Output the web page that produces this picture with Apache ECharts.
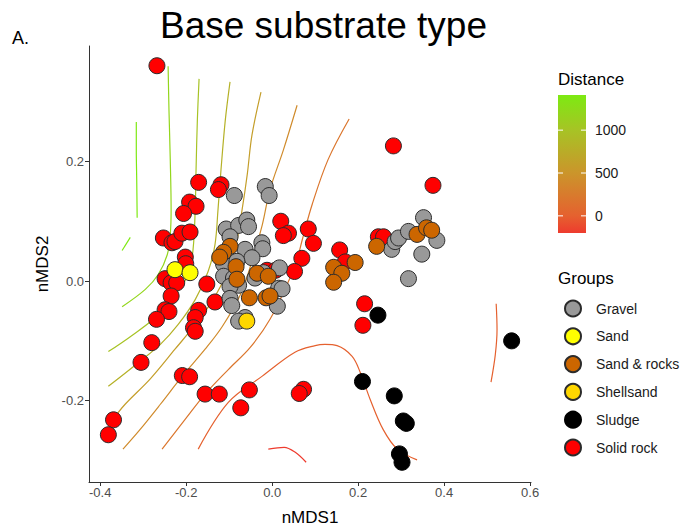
<!DOCTYPE html>
<html>
<head>
<meta charset="utf-8">
<script src="https://cdn.jsdelivr.net/npm/echarts@6/dist/echarts.min.js"></script>
<style>
  html, body { margin: 0; padding: 0; background: #fff; }
  #chart { width: 684px; height: 531px; }
</style>
</head>
<body>
<div id="chart"></div>
<script>
// groups of the legend, in legend order
const groups = ['Gravel', 'Sand', 'Sand & rocks', 'Shellsand', 'Sludge', 'Solid rock'];
const groupColors = ['#999999', '#FFFF00', '#CC6600', '#FFD700', '#000000', '#FF0000'];

// nMDS scores [nMDS1, nMDS2]
const gravel = [
  [-0.088, 0.143], [-0.016, 0.158], [-0.007, 0.143], [-0.107, 0.087], [-0.078, 0.093], [-0.059, 0.102],
  [-0.055, 0.091], [-0.098, 0.074], [-0.063, 0.053], [-0.024, 0.064], [-0.022, 0.054], [-0.047, 0.039],
  [-0.113, 0.028], [-0.082, 0.033], [-0.113, 0.008], [-0.090, 0.005], [-0.078, -0.007], [-0.098, -0.009],
  [-0.040, 0.005], [-0.020, 0.014], [0.017, 0.022], [0.015, -0.012], [0.023, -0.013], [-0.098, -0.029],
  [-0.094, -0.041], [0.012, -0.042], [-0.063, -0.061], [-0.078, -0.067], [0.278, 0.053], [0.286, 0.066],
  [0.294, 0.072], [0.317, 0.083], [0.352, 0.106], [0.383, 0.068], [0.348, 0.045], [0.317, 0.004]
];
const sand = [[-0.226, 0.019], [-0.191, 0.014]];
const sandRocks = [
  [-0.098, 0.058], [-0.113, 0.048], [-0.122, 0.040], [-0.084, 0.024], [-0.082, 0.003], [-0.053, -0.028],
  [-0.035, 0.013], [-0.009, 0.008], [-0.014, -0.028], [-0.005, -0.025], [0.143, 0.023], [0.162, 0.013],
  [0.143, -0.002], [0.193, 0.031], [0.243, 0.058], [0.337, 0.078], [0.359, 0.089], [0.371, 0.085]
];
const shellsand = [[-0.059, -0.067]];
const sludge = [
  [0.246, -0.057], [0.557, -0.100], [0.210, -0.168], [0.284, -0.192],
  [0.305, -0.234], [0.312, -0.238], [0.296, -0.289], [0.302, -0.303]
];
const solidRock = [
  [-0.268, 0.360], [-0.171, 0.165], [-0.119, 0.161], [-0.125, 0.153], [-0.192, 0.132], [-0.177, 0.125],
  [-0.206, 0.113], [-0.253, 0.072], [-0.233, 0.064], [-0.226, 0.066], [-0.210, 0.080], [-0.191, 0.082],
  [-0.202, 0.040], [-0.201, 0.029], [-0.249, 0.004], [-0.235, -0.003], [-0.222, -0.003], [-0.235, -0.025],
  [-0.152, -0.005], [-0.133, -0.035], [-0.249, -0.048], [-0.240, -0.051], [-0.269, -0.064], [-0.171, -0.049],
  [-0.179, -0.061], [-0.183, -0.078], [-0.179, -0.084], [-0.280, -0.103], [-0.305, -0.136], [-0.209, -0.158],
  [-0.192, -0.160], [-0.156, -0.189], [-0.123, -0.189], [-0.053, -0.182], [-0.073, -0.212], [-0.369, -0.232],
  [-0.381, -0.257], [0.073, -0.181], [0.063, -0.188], [0.020, 0.100], [0.038, 0.080], [0.026, 0.076],
  [0.084, 0.087], [0.096, 0.063], [0.069, 0.038], [0.052, 0.016], [-0.012, 0.018], [0.008, 0.018],
  [0.157, 0.052], [0.170, 0.032], [0.247, 0.074], [0.259, 0.074], [0.215, -0.038], [0.211, -0.074],
  [0.282, 0.226], [0.374, 0.160]
];
const groupData = [gravel, sand, sandRocks, shellsand, sludge, solidRock];

// fitted surface contours (Distance), one level per path
const contourLevels = [1400, 1400, 1200, 1000, 800, 600, 400, 200, 0, 0, -200];
const contourPaths = [
  [[-0.316, 0.266], [-0.316, 0.219], [-0.315, 0.169], [-0.314, 0.106]],
  [[-0.330, 0.073], [-0.349, 0.051]],
  [[-0.242, 0.359], [-0.240, 0.286], [-0.237, 0.203], [-0.235, 0.119], [-0.237, 0.078], [-0.244, 0.044],
   [-0.265, 0.011], [-0.295, -0.014], [-0.349, -0.043]],
  [[-0.170, 0.338], [-0.174, 0.269], [-0.177, 0.186], [-0.179, 0.119], [-0.184, 0.053], [-0.195, 0.011],
   [-0.226, -0.023], [-0.272, -0.061], [-0.330, -0.093], [-0.381, -0.118]],
  [[-0.098, 0.333], [-0.109, 0.269], [-0.119, 0.186], [-0.126, 0.119], [-0.133, 0.061], [-0.149, 0.016],
   [-0.179, -0.031], [-0.219, -0.073], [-0.260, -0.106], [-0.307, -0.134], [-0.381, -0.176]],
  [[-0.026, 0.316], [-0.047, 0.244], [-0.058, 0.178], [-0.070, 0.119], [-0.084, 0.061], [-0.107, 0.011],
   [-0.140, -0.034], [-0.179, -0.073], [-0.226, -0.114], [-0.284, -0.164], [-0.342, -0.206], [-0.372, -0.233]],
  [[0.058, 0.294], [0.026, 0.219], [-0.005, 0.153], [-0.023, 0.094], [-0.047, 0.033], [-0.074, -0.023],
   [-0.116, -0.076], [-0.156, -0.114], [-0.209, -0.159], [-0.260, -0.206], [-0.307, -0.248], [-0.347, -0.281]],
  [[0.179, 0.271], [0.130, 0.203], [0.093, 0.128], [0.070, 0.069], [0.058, 0.036], [0.042, 0.006],
   [-0.005, -0.064], [-0.051, -0.111], [-0.102, -0.148], [-0.156, -0.189], [-0.202, -0.231], [-0.256, -0.281]],
  [[-0.172, -0.281], [-0.102, -0.203], [-0.023, -0.159], [0.053, -0.119], [0.100, -0.108], [0.123, -0.106],
   [0.151, -0.108], [0.186, -0.126], [0.205, -0.153], [0.228, -0.198], [0.258, -0.248], [0.291, -0.281],
   [0.337, -0.299]],
  [[0.521, -0.038], [0.523, -0.081], [0.519, -0.123], [0.509, -0.169]],
  [[-0.009, -0.281], [0.028, -0.278], [0.053, -0.286], [0.079, -0.303]]
];

// colour bar
const distanceMin = -200;
const distanceMax = 1410;
const distanceTicks = [0, 500, 1000];
const distanceStops = [[-200, '#EE3B2E'], [0, '#E5612F'], [500, '#CB952B'], [1000, '#A7C325'], [1410, '#7DEA12']];

const xTicks = [-0.4, -0.2, 0, 0.2, 0.4, 0.6];
const yTicks = [-0.2, 0, 0.2];

function hexToRgb(h) {
  return [parseInt(h.slice(1, 3), 16), parseInt(h.slice(3, 5), 16), parseInt(h.slice(5, 7), 16)];
}
function levelColor(v) {
  for (let i = 0; i < distanceStops.length - 1; i++) {
    const a = distanceStops[i], b = distanceStops[i + 1];
    if (v <= b[0] || i === distanceStops.length - 2) {
      const t = Math.max(0, Math.min(1, (v - a[0]) / (b[0] - a[0])));
      const ca = hexToRgb(a[1]), cb = hexToRgb(b[1]);
      const c = ca.map((x, k) => Math.round(x + (cb[k] - x) * t));
      return 'rgb(' + c.join(',') + ')';
    }
  }
}

const FONT = '"Liberation Sans", Arial, sans-serif';
const myChart = echarts.init(document.getElementById('chart'), null, { renderer: 'svg' });

const series = [];
contourPaths.forEach((path, i) => {
  series.push({
    type: 'line',
    data: path,
    symbol: 'none',
    smooth: 0.35,
    silent: true,
    z: 1,
    lineStyle: { color: levelColor(contourLevels[i]), width: 1.2 }
  });
});
// drawing order of the points
[5, 0, 2, 1, 3, 4].forEach(g => {
  series.push({
    name: groups[g],
    type: 'scatter',
    data: groupData[g],
    symbol: 'circle',
    symbolSize: 16,
    z: 3,
    itemStyle: {
      color: groupColors[g],
      borderColor: g === 4 ? '#000' : '#2b2b2b',
      borderWidth: 1,
      opacity: 1
    }
  });
});

// colour bar graphic
const barX = 558, barTop = 95, barW = 28, barH = 138;
const valToY = v => barTop + (distanceMax - v) / (distanceMax - distanceMin) * barH;
const gradStops = distanceStops.map(s => ({
  offset: (distanceMax - s[0]) / (distanceMax - distanceMin), color: s[1]
})).reverse();
const graphics = [
  { type: 'text', x: 323.5, y: 25, style: { text: 'Base substrate type', font: '37px ' + FONT, fill: '#000', textAlign: 'center', textVerticalAlign: 'middle' } },
  { type: 'text', x: 12, y: 38, style: { text: 'A.', font: '18px ' + FONT, fill: '#000', textVerticalAlign: 'middle' } },
  { type: 'text', x: 558, y: 79, style: { text: 'Distance', font: '17px ' + FONT, fill: '#000', textVerticalAlign: 'middle' } },
  { type: 'text', x: 558, y: 278, style: { text: 'Groups', font: '17px ' + FONT, fill: '#000', textVerticalAlign: 'middle' } },
  {
    type: 'rect', shape: { x: barX, y: barTop, width: barW, height: barH },
    style: { fill: new echarts.graphic.LinearGradient(0, 0, 0, 1, gradStops) }
  }
];
distanceTicks.forEach(v => {
  const y = valToY(v);
  graphics.push({ type: 'line', shape: { x1: barX, y1: y, x2: barX + 5, y2: y }, style: { stroke: '#fff', lineWidth: 1 } });
  graphics.push({ type: 'line', shape: { x1: barX + barW - 5, y1: y, x2: barX + barW, y2: y }, style: { stroke: '#fff', lineWidth: 1 } });
  graphics.push({ type: 'text', x: 595, y: y, style: { text: String(v), font: '14px ' + FONT, fill: '#1a1a1a', textVerticalAlign: 'middle' } });
});

const option = {
  animation: false,
  textStyle: { fontFamily: FONT },
  grid: { left: 89, right: 153, top: 46, bottom: 48, containLabel: false },
  xAxis: {
    type: 'value',
    min: -0.426,
    max: 0.602,
    name: 'nMDS1',
    nameLocation: 'middle',
    nameGap: 27,
    nameTextStyle: { fontSize: 17, color: '#000' },
    splitLine: { show: false },
    axisLine: { onZero: false, lineStyle: { color: '#333', width: 1 } },
    axisTick: { length: 4, lineStyle: { color: '#333' }, customValues: xTicks },
    axisLabel: {
      customValues: xTicks, color: '#4D4D4D', fontSize: 13, margin: 4,
      formatter: v => (Math.abs(v) < 1e-9 ? '0.0' : v.toFixed(1))
    }
  },
  yAxis: {
    type: 'value',
    min: -0.336,
    max: 0.393,
    name: 'nMDS2',
    nameLocation: 'middle',
    nameGap: 38,
    nameTextStyle: { fontSize: 17, color: '#000' },
    splitLine: { show: false },
    axisLine: { onZero: false, lineStyle: { color: '#333', width: 1 } },
    axisTick: { length: 4, lineStyle: { color: '#333' }, customValues: yTicks },
    axisLabel: {
      customValues: yTicks, color: '#4D4D4D', fontSize: 13, margin: 5,
      formatter: v => (Math.abs(v) < 1e-9 ? '0.0' : v.toFixed(1))
    }
  },
  legend: {
    data: groups,
    orient: 'vertical',
    left: 559,
    top: 294.5,
    icon: 'circle',
    itemWidth: 16,
    itemHeight: 16,
    itemGap: 9.8,
    selectedMode: false,
    textStyle: { fontSize: 14, color: '#1a1a1a', padding: [0, 0, 0, 10] }
  },
  graphic: graphics,
  series: series
};

myChart.setOption(option);
</script>
</body>
</html>
